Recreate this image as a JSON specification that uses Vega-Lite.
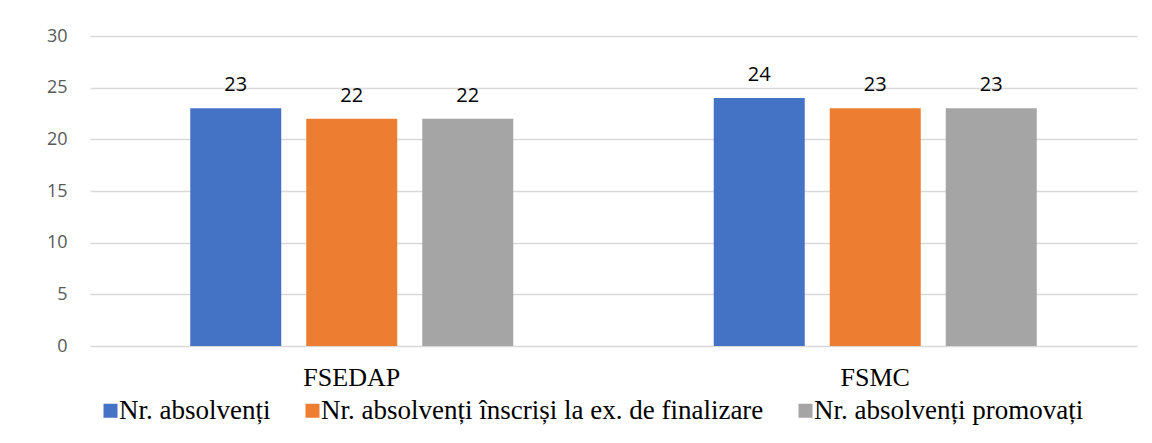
{
  "$schema": "https://vega.github.io/schema/vega-lite/v6.json",
  "autosize": {"type": "none"},
  "width": 1047,
  "height": 310,
  "padding": {"left": 90, "top": 36, "right": 15, "bottom": 97},
  "background": "white",
  "data": {"values": [
    {"fac": "FSEDAP", "serie": "Nr. absolvenți", "val": 23, "ord": 0},
    {"fac": "FSEDAP", "serie": "Nr. absolvenți înscriși la ex. de finalizare", "val": 22, "ord": 1},
    {"fac": "FSEDAP", "serie": "Nr. absolvenți promovați", "val": 22, "ord": 2},
    {"fac": "FSMC", "serie": "Nr. absolvenți", "val": 24, "ord": 0},
    {"fac": "FSMC", "serie": "Nr. absolvenți înscriși la ex. de finalizare", "val": 23, "ord": 1},
    {"fac": "FSMC", "serie": "Nr. absolvenți promovați", "val": 23, "ord": 2}
  ]},
  "encoding": {
    "x": {"field": "fac", "type": "nominal", "sort": ["FSEDAP", "FSMC"],
      "scale": {"paddingInner": 0.383, "paddingOuter": 0.1915},
      "axis": {"title": null, "labelAngle": 0, "domain": false, "ticks": false,
        "labelFont": "Liberation Serif, DejaVu Serif, serif", "labelFontSize": 26, "labelColor": "#000000", "labelPadding": 18}},
    "xOffset": {"field": "serie", "type": "nominal", "sort": {"field": "ord"},
      "scale": {"paddingInner": 0.2155, "paddingOuter": 0}},
    "y": {"field": "val", "type": "quantitative",
      "scale": {"domain": [0, 30], "nice": false},
      "axis": {"title": null, "values": [0, 5, 10, 15, 20, 25, 30], "domain": false, "ticks": false,
        "labelFont": "Open Sans", "labelFontSize": 18, "labelColor": "#595959", "labelPadding": 23,
        "gridColor": "#d9d9d9", "gridWidth": 1.5}}
  },
  "layer": [
    {
      "mark": {"type": "bar"},
      "encoding": {
        "color": {"field": "serie", "type": "nominal", "sort": {"field": "ord"},
          "scale": {"domain": ["Nr. absolvenți", "Nr. absolvenți înscriși la ex. de finalizare", "Nr. absolvenți promovați"],
            "range": ["#4472C4", "#ED7D31", "#A5A5A5"]},
          "legend": {"title": null, "orient": "none", "direction": "horizontal", "columns": 3,
            "legendX": 7, "legendY": 361, "symbolType": "square", "symbolSize": 196,
            "symbolStrokeWidth": 0, "symbolOpacity": 1,
            "labelFont": "Liberation Serif, DejaVu Serif, serif", "labelFontSize": 27, "labelColor": "#000000",
            "labelOffset": -5, "columnPadding": 28, "labelLimit": 800}}
      }
    },
    {
      "mark": {"type": "text", "baseline": "alphabetic", "dy": -17, "font": "Open Sans", "fontSize": 20, "color": "#000000"},
      "encoding": {"text": {"field": "val", "type": "quantitative"}}
    }
  ],
  "config": {"view": {"stroke": null}}
}
